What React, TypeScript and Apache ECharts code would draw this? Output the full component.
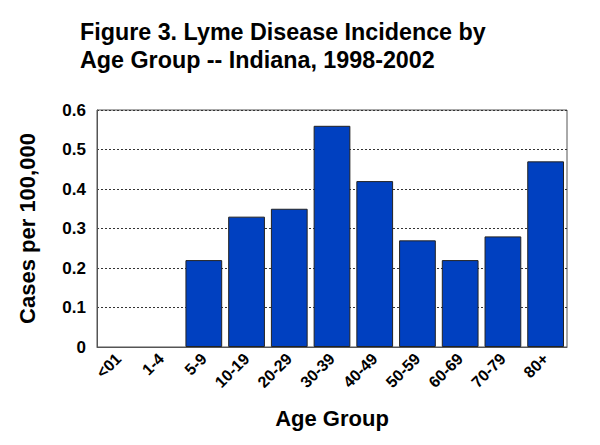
import React, { useEffect, useRef } from "react";
import * as echarts from "echarts";

const categories = ["<01", "1-4", "5-9", "10-19", "20-29", "30-39", "40-49", "50-59", "60-69", "70-79", "80+"];
const values = [0, 0, 0.22, 0.33, 0.35, 0.56, 0.42, 0.27, 0.22, 0.28, 0.47];
const titleText = "Figure 3. Lyme Disease Incidence by\nAge Group -- Indiana, 1998-2002";
const yAxisName = "Cases per 100,000";
const xAxisName = "Age Group";

const FONT = "Arial, 'Liberation Sans', Helvetica, sans-serif";

export default function App() {
  const ref = useRef<HTMLDivElement>(null);
  useEffect(() => {
    if (!ref.current) return;
    const chart = echarts.init(ref.current, undefined, { renderer: "svg" });
    chart.setOption({
      animation: false,
      backgroundColor: "#ffffff",
      title: {
        text: titleText,
        left: 75,
        top: 13,
        textStyle: {
          fontFamily: FONT,
          fontWeight: "bold",
          fontSize: 23.3,
          lineHeight: 28,
          color: "#000",
        },
      },
      grid: {
        left: 97,
        right: 33,
        top: 110,
        bottom: 98,
        show: true,
        borderColor: "#555",
        borderWidth: 1,
        backgroundColor: "transparent",
      },
      xAxis: {
        type: "category",
        data: categories,
        name: xAxisName,
        nameLocation: "middle",
        nameGap: 60,
        nameTextStyle: { fontFamily: FONT, fontWeight: "bold", fontSize: 22, color: "#000" },
        axisLine: { show: true, lineStyle: { color: "#555", width: 1 } },
        axisTick: { show: false },
        axisLabel: {
          rotate: 45,
          interval: 0,
          margin: 9,
          fontFamily: FONT,
          fontWeight: "bold",
          fontSize: 16,
          color: "#000",
        },
      },
      yAxis: {
        type: "value",
        min: 0,
        max: 0.6,
        interval: 0.1,
        name: yAxisName,
        nameLocation: "middle",
        nameGap: 59,
        nameTextStyle: { fontFamily: FONT, fontWeight: "bold", fontSize: 22, color: "#000" },
        axisLine: { show: true, lineStyle: { color: "#555", width: 1 } },
        axisTick: { show: false },
        axisLabel: {
          margin: 11,
          fontFamily: FONT,
          fontWeight: "bold",
          fontSize: 17,
          color: "#000",
          formatter: (v: number) => (v === 0 ? "0" : v.toFixed(1)),
        },
        splitLine: { show: true, lineStyle: { color: "#333", type: [2, 2], width: 1 } },
      },
      series: [
        {
          type: "bar",
          data: values.map((v) => ({ value: v, itemStyle: { borderWidth: v === 0 ? 0 : 1 } })),
          barCategoryGap: "14%",
          itemStyle: { color: "#0040C0", borderColor: "#222", borderWidth: 1 },
        },
      ],
    });
    return () => chart.dispose();
  }, []);
  return <div ref={ref} style={{ position: "fixed", left: 0, top: 0, width: 600, height: 445 }} />;
}
